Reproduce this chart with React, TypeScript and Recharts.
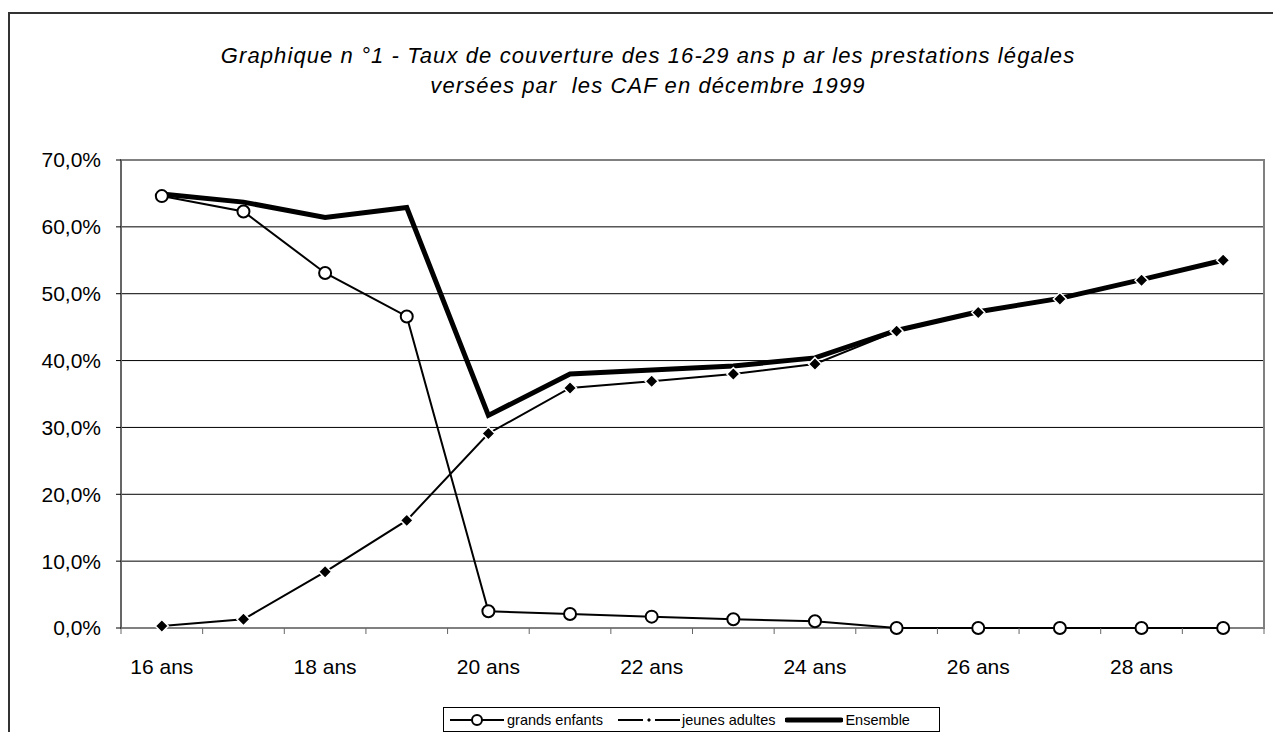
import React from 'react';
import { LineChart, Line, XAxis, YAxis, CartesianGrid, ReferenceArea } from 'recharts';

// Taux de couverture (%) par âge
const ages = [16, 17, 18, 19, 20, 21, 22, 23, 24, 25, 26, 27, 28, 29];
const grandsEnfants = [64.6, 62.3, 53.1, 46.6, 2.5, 2.1, 1.7, 1.3, 1.0, 0, 0, 0, 0, 0];
const jeunesAdultes = [0.3, 1.3, 8.4, 16.1, 29.1, 35.9, 36.9, 38.0, 39.5, 44.4, 47.2, 49.2, 52.0, 55.0];
const ensemble = [64.9, 63.7, 61.4, 62.9, 31.8, 38.0, 38.6, 39.2, 40.4, 44.5, 47.3, 49.3, 52.1, 55.0];

const labelTicks = [16, 18, 20, 22, 24, 26, 28];
const boundaryTicks = [15.5, 16.5, 17.5, 18.5, 19.5, 20.5, 21.5, 22.5, 23.5, 24.5, 25.5, 26.5, 27.5, 28.5, 29.5];
const yTicks = [0, 10, 20, 30, 40, 50, 60, 70];

const titleLines = [
  'Graphique n °1 - Taux de couverture des 16-29 ans p ar les prestations légales',
  'versées par  les CAF en décembre 1999',
];

const data = ages.map((age, i) => ({
  age,
  grandsEnfants: grandsEnfants[i],
  jeunesAdultes: jeunesAdultes[i],
  ensemble: ensemble[i],
}));

const font = '"Liberation Sans", Arial, sans-serif';
const fmtPct = (v: number) => `${v.toFixed(1).replace('.', ',')}%`;

const Diamond = (props: any) => {
  const { cx, cy, index } = props;
  if (cx == null || cy == null) return <g key={index} />;
  const r = 6.5;
  return (
    <path
      key={index}
      d={`M${cx},${cy - r}L${cx + r},${cy}L${cx},${cy + r}L${cx - r},${cy}Z`}
      fill="#000"
      stroke="#fff"
      strokeWidth={1.5}
    />
  );
};

function LegendBox() {
  return (
    <div
      style={{
        position: 'absolute',
        left: 435,
        top: 699,
        width: 497,
        height: 25,
        border: '1px solid #000',
        fontFamily: font,
        fontSize: 14.5,
        display: 'flex',
        alignItems: 'center',
        boxSizing: 'border-box',
        paddingLeft: 6,
        whiteSpace: 'nowrap',
      }}
    >
      <svg width={54} height={14}>
        <line x1={0} y1={7} x2={54} y2={7} stroke="#000" strokeWidth={2} />
        <circle cx={27} cy={7} r={5} fill="#fff" stroke="#000" strokeWidth={2} />
      </svg>
      <span style={{ marginLeft: 3, marginRight: 15 }}>grands enfants</span>
      <svg width={62} height={14}>
        <line x1={0} y1={7} x2={25} y2={7} stroke="#000" strokeWidth={2} />
        <line x1={37} y1={7} x2={62} y2={7} stroke="#000" strokeWidth={2} />
        <path d="M31,5L33,7L31,9L29,7Z" fill="#000" />
      </svg>
      <span style={{ marginLeft: 2, marginRight: 10 }}>jeunes adultes</span>
      <svg width={58} height={14}>
        <line x1={2} y1={7} x2={56} y2={7} stroke="#000" strokeWidth={5} strokeLinecap="round" />
      </svg>
      <span style={{ marginLeft: 2 }}>Ensemble</span>
    </div>
  );
}

export default function App() {
  return (
    <>
      <style>{'body{margin:0;overflow:hidden;}'}</style>
      <div
        style={{
          position: 'relative',
          marginLeft: 8,
          marginTop: 8,
          width: 1265,
          height: 724,
          overflow: 'hidden',
          background: '#fff',
        }}
      >
        <div
          style={{
            position: 'absolute',
            left: 0,
            top: 4,
            width: 1400,
            height: 900,
            borderTop: '2px solid #333',
            borderLeft: '2px solid #333',
          }}
        />
        <div
          style={{
            position: 'absolute',
            left: 0,
            top: 33,
            width: 1280,
            textAlign: 'center',
            fontFamily: font,
            fontStyle: 'italic',
            fontSize: 22,
            letterSpacing: 1.1,
            lineHeight: '30px',
            color: '#000',
          }}
        >
          {titleLines.map((t) => (
            <div key={t} style={{ whiteSpace: 'pre' }}>{t}</div>
          ))}
        </div>
        <div style={{ position: 'absolute', left: 0, top: 0 }}>
          <LineChart width={1265} height={700} data={data} margin={{ top: 152, right: 9, left: 13, bottom: 40 }}>
            <ReferenceArea
              x1={15.5}
              x2={29.5}
              y1={0}
              y2={70}
              fill="none"
              stroke="#808080"
              strokeWidth={2}
              ifOverflow="visible"
            />
            <CartesianGrid vertical={false} stroke="#000" strokeWidth={1} />
            {/* tick marks between categories */}
            <XAxis
              dataKey="age"
              type="number"
              domain={[15.5, 29.5]}
              allowDataOverflow
              ticks={boundaryTicks}
              tickFormatter={() => ''}
              interval={0}
              height={6}
              tickSize={6}
              axisLine={false}
              tickLine={{ stroke: '#666', strokeWidth: 1 }}
            />
            {/* labels */}
            <XAxis
              xAxisId="lbl"
              dataKey="age"
              type="number"
              domain={[15.5, 29.5]}
              allowDataOverflow
              ticks={labelTicks}
              interval={0}
              tickFormatter={(v: number) => `${v} ans`}
              height={34}
              tickSize={0}
              tickMargin={25}
              axisLine={false}
              tickLine={false}
              tick={{ fill: '#000', fontSize: 21, fontFamily: font }}
            />
            <YAxis
              type="number"
              domain={[0, 70]}
              ticks={yTicks}
              width={100}
              tickFormatter={fmtPct}
              tickSize={5}
              tickMargin={15}
              axisLine={{ stroke: '#666', strokeWidth: 2 }}
              tickLine={{ stroke: '#000' }}
              tick={{ fill: '#000', fontSize: 21, fontFamily: font }}
            />
            <Line
              xAxisId="lbl"
              dataKey="ensemble"
              name="Ensemble"
              stroke="#000"
              strokeWidth={5}
              dot={false}
              isAnimationActive={false}
            />
            <Line
              dataKey="jeunesAdultes"
              name="jeunes adultes"
              stroke="#000"
              strokeWidth={2}
              dot={Diamond}
              isAnimationActive={false}
            />
            <Line
              dataKey="grandsEnfants"
              name="grands enfants"
              stroke="#000"
              strokeWidth={2}
              dot={{ r: 6, fill: '#fff', stroke: '#000', strokeWidth: 2 }}
              isAnimationActive={false}
            />
          </LineChart>
        </div>
        <LegendBox />
      </div>
    </>
  );
}
